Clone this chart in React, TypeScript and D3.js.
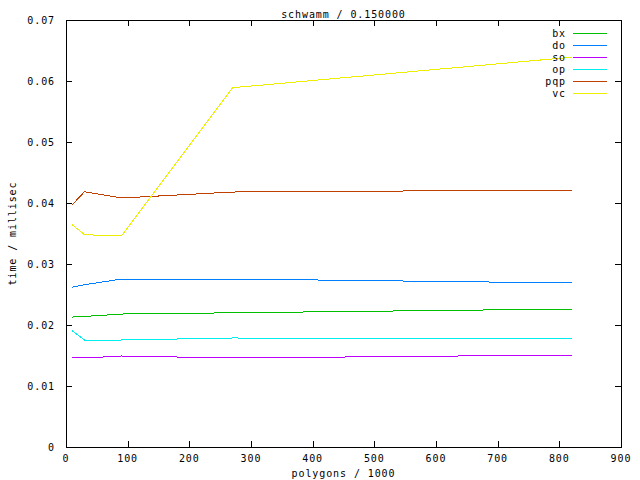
// @ts-nocheck
import React, { useEffect, useRef } from "react";
import * as d3 from "d3";

// polygons / 1000
const polygons = [10, 30, 90, 270, 820];

const bx = [0.0213, 0.0214, 0.0218, 0.022, 0.02262];
const dO = [0.0262, 0.0266, 0.02754, 0.02754, 0.02689];
const so = [0.01475, 0.01459, 0.01492, 0.01459, 0.01508];
const op = [0.01907, 0.01754, 0.01754, 0.01787, 0.01771];
const pqp = [0.0397, 0.04185, 0.04082, 0.0418, 0.04213];
const vc = [0.03644, 0.0348, 0.0346, 0.0589, 0.0639];

const seriesNames = ["bx", "do", "so", "op", "pqp", "vc"];
const seriesValues = [bx, dO, so, op, pqp, vc];
const seriesColors = ["#00c000", "#0080ff", "#c000ff", "#00eeee", "#c04000", "#eeee00"];

const xTicks = [0, 100, 200, 300, 400, 500, 600, 700, 800, 900];
const yTicks = [0, 0.01, 0.02, 0.03, 0.04, 0.05, 0.06, 0.07];

export default function App() {
  const ref = useRef(null);

  useEffect(() => {
    var width = 640,
      height = 480;
    var margin = { top: 20, right: 19, bottom: 33, left: 66 };

    var svg = d3.select(ref.current);
    svg.selectAll("*").remove();

    svg.append("rect").attr("width", width).attr("height", height).attr("fill", "#fff");

    // small fixed-width text, like gnuplot's bitmap font
    function label(sel) {
      return sel
        .style("font-family", "'DejaVu Sans Mono', monospace")
        .style("font-size", "10px")
        .style("letter-spacing", "0.9px")
        .attr("fill", "#000");
    }

    var x = d3
      .scaleLinear()
      .domain([0, 900])
      .range([margin.left, width - margin.right]);
    var y = d3
      .scaleLinear()
      .domain([0, 0.07])
      .range([height - margin.bottom, margin.top]);

    var g = svg.append("g").attr("shape-rendering", "crispEdges");

    // ticks on all four sides (mirrored, pointing inwards)
    var tl = 6;
    xTicks.forEach(function (t) {
      var px = Math.round(x(t)) + 0.5;
      g.append("line").attr("x1", px).attr("x2", px).attr("y1", y(0)).attr("y2", y(0) - tl).attr("stroke", "#000");
      g.append("line").attr("x1", px).attr("x2", px).attr("y1", y(0.07)).attr("y2", y(0.07) + tl).attr("stroke", "#000");
      svg
        .append("text")
        .attr("x", x(t))
        .attr("y", y(0) + 15)
        .attr("text-anchor", "middle")
        .call(label)
        .text(t);
    });
    yTicks.forEach(function (t) {
      var py = Math.round(y(t)) + 0.5;
      g.append("line").attr("x1", x(0)).attr("x2", x(0) + tl).attr("y1", py).attr("y2", py).attr("stroke", "#000");
      g.append("line").attr("x1", x(900)).attr("x2", x(900) - tl).attr("y1", py).attr("y2", py).attr("stroke", "#000");
      svg
        .append("text")
        .attr("x", x(0) - 11)
        .attr("y", y(t) + 4)
        .attr("text-anchor", "end")
        .call(label)
        .text(t === 0 ? "0" : t.toFixed(2));
    });

    // frame
    g.append("rect")
      .attr("x", Math.round(x(0)) + 0.5)
      .attr("y", Math.round(y(0.07)) + 0.5)
      .attr("width", Math.round(x(900)) - Math.round(x(0)))
      .attr("height", Math.round(y(0)) - Math.round(y(0.07)))
      .attr("fill", "none")
      .attr("stroke", "#000");

    // data lines
    var line = d3
      .line()
      .x(function (d, i) {
        return x(polygons[i]);
      })
      .y(function (d) {
        return y(d);
      });

    seriesValues.forEach(function (vals, i) {
      g.append("path")
        .attr("d", line(vals))
        .attr("fill", "none")
        .attr("stroke", seriesColors[i])
        .attr("stroke-width", 1);
    });

    // legend
    seriesNames.forEach(function (name, i) {
      var ly = 33 + i * 12;
      svg
        .append("text")
        .attr("x", 566)
        .attr("y", ly + 4)
        .attr("text-anchor", "end")
        .call(label)
        .text(name);
      g.append("rect")
        .attr("x", 573)
        .attr("y", ly)
        .attr("width", 34)
        .attr("height", 1)
        .attr("fill", seriesColors[i]);
    });

    // title and axis labels
    svg
      .append("text")
      .attr("x", (x(0) + x(900)) / 2)
      .attr("y", 18)
      .attr("text-anchor", "middle")
      .call(label)
      .text("schwamm / 0.150000");
    svg
      .append("text")
      .attr("x", (x(0) + x(900)) / 2)
      .attr("y", 477)
      .attr("text-anchor", "middle")
      .call(label)
      .text("polygons / 1000");
    svg
      .append("text")
      .attr("transform", "translate(16," + (y(0) + y(0.07)) / 2 + ") rotate(-90)")
      .attr("text-anchor", "middle")
      .call(label)
      .text("time / millisec");
  }, []);

  return (
    <svg
      ref={ref}
      width={640}
      height={480}
      style={{ position: "absolute", left: 0, top: 0, display: "block" }}
    />
  );
}
